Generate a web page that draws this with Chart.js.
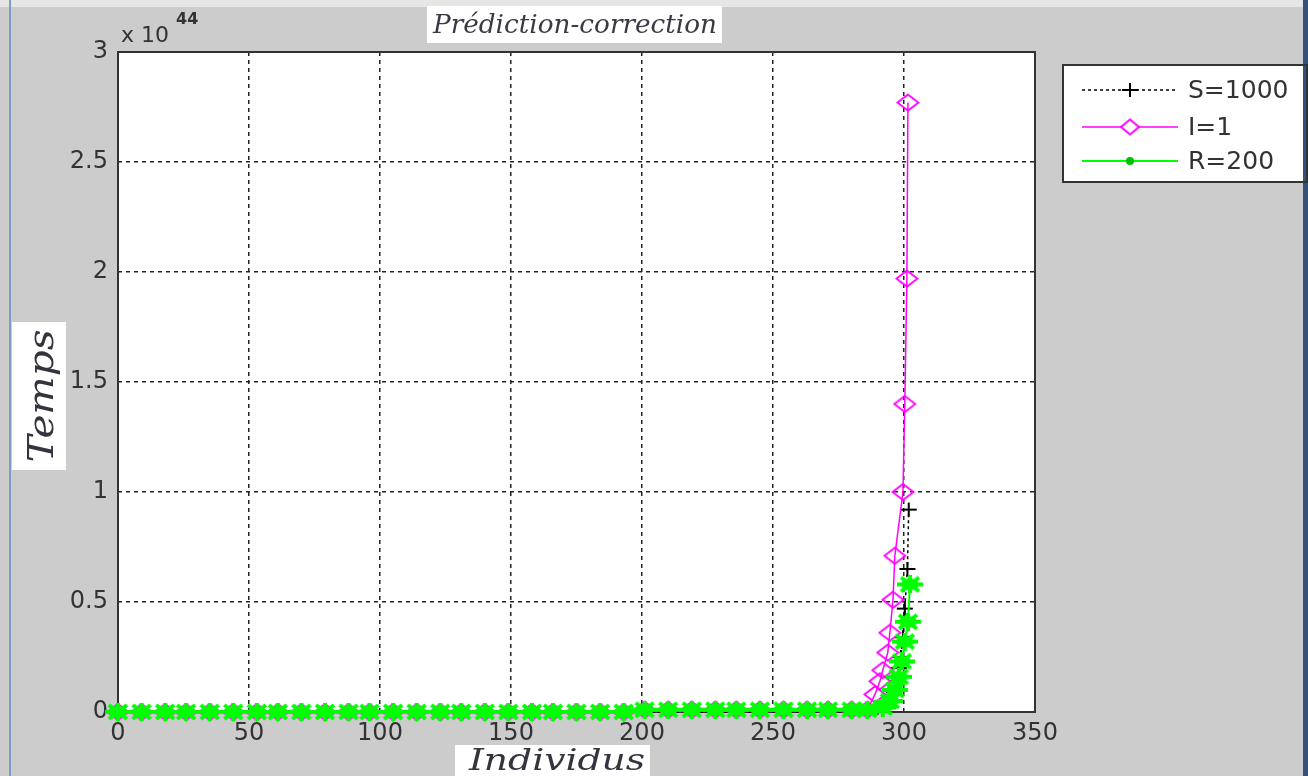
<!DOCTYPE html>
<html>
<head>
<meta charset="utf-8">
<script src="https://cdn.jsdelivr.net/npm/chart.js@4.4.0/dist/chart.umd.min.js"></script>
<style>
  html, body { margin: 0; padding: 0; background: #cccccc; overflow: hidden; }
  canvas { display: block; }
</style>
</head>
<body>
<canvas id="chart" width="1308" height="776"></canvas>
<script>
// Temps en unités de 10^44
const exposant = 44;

const sIndividus = [0, 9, 18, 26, 35, 44, 53, 61, 70, 79, 88, 96, 105, 114, 123, 131, 140, 149, 158, 166, 175, 184, 193, 201, 210, 219, 228, 236, 245, 254, 263, 271, 280, 286, 290, 294.6, 296.1, 297.3, 298, 298.8, 299.6, 300.3, 301.3, 301.8];
const sTemps = [0, 0, 0, 0, 0, 0, 0, 0, 0, 0, 0, 0, 0, 0, 0, 0, 0, 0, 0, 0, 0, 0, 0, 0, 0, 0, 0, 0, 0, 0, 0, 0, 0, 0, 0.02, 0.05, 0.09, 0.14, 0.2, 0.25, 0.34, 0.47, 0.65, 0.92];

const iIndividus = [0, 9, 18, 26, 35, 44, 53, 61, 70, 79, 88, 96, 105, 114, 123, 131, 140, 149, 158, 166, 175, 184, 193, 201, 210, 219, 228, 236, 245, 254, 263, 271, 280, 286, 288.9, 290.8, 291.9, 293.8, 294.6, 295.8, 296.5, 299.6, 300.3, 301.1, 301.5];
const iTemps = [0, 0, 0, 0, 0, 0, 0, 0, 0, 0, 0, 0, 0, 0, 0, 0, 0, 0, 0, 0, 0, 0, 0, 0.01, 0.01, 0.01, 0.01, 0.01, 0.01, 0.01, 0.01, 0.01, 0.01, 0.01, 0.08, 0.14, 0.19, 0.27, 0.36, 0.51, 0.71, 1.0, 1.40, 1.97, 2.77];

const rIndividus = [0, 9, 18, 26, 35, 44, 53, 61, 70, 79, 88, 96, 105, 114, 123, 131, 140, 149, 158, 166, 175, 184, 193, 201, 210, 219, 228, 236, 245, 254, 263, 271, 280, 286, 291.9, 294.6, 296.5, 298, 299.2, 300.3, 301.5, 302.3];
const rTemps = [0, 0, 0, 0, 0, 0, 0, 0, 0, 0, 0, 0, 0, 0, 0, 0, 0, 0, 0, 0, 0, 0, 0, 0.01, 0.01, 0.01, 0.01, 0.01, 0.01, 0.01, 0.01, 0.01, 0.01, 0.01, 0.02, 0.05, 0.10, 0.16, 0.23, 0.32, 0.41, 0.58];

const seriesLabels = ['S=1000', 'I=1', 'R=200'];

function points(xs, ys) {
    return xs.map((x, i) => ({ x: x, y: ys[i] }));
}

// petits canvas servant de marqueurs (un peu plus larges que hauts)
function marker(w, h, draw) {
    const c = document.createElement('canvas');
    c.width = w;
    c.height = h;
    draw(c.getContext('2d'), w, h);
    return c;
}

const plusMarker = marker(18, 16, (g, w, h) => {
    g.strokeStyle = '#000000';
    g.lineWidth = 2;
    g.beginPath();
    g.moveTo(1, h / 2); g.lineTo(w - 1, h / 2);
    g.moveTo(w / 2, 1); g.lineTo(w / 2, h - 1);
    g.stroke();
});

const diamondMarker = marker(24, 19, (g, w, h) => {
    g.strokeStyle = '#ff00ff';
    g.lineWidth = 1.8;
    g.beginPath();
    g.moveTo(w / 2, 1.5); g.lineTo(w - 1.5, h / 2);
    g.lineTo(w / 2, h - 1.5); g.lineTo(1.5, h / 2);
    g.closePath();
    g.stroke();
});

const starMarker = marker(26, 18, (g, w, h) => {
    g.fillStyle = '#00ff00';
    g.strokeStyle = '#00ff00';
    g.beginPath();
    g.ellipse(w / 2, h / 2, 9, 6, 0, 0, Math.PI * 2);
    g.fill();
    g.lineWidth = 4;
    g.beginPath();
    g.moveTo(0, h / 2); g.lineTo(w, h / 2);
    g.moveTo(w / 2, 0); g.lineTo(w / 2, h);
    g.moveTo(4, 2); g.lineTo(w - 4, h - 2);
    g.moveTo(4, h - 2); g.lineTo(w - 4, 2);
    g.stroke();
});

const legendMarkers = [
    plusMarker,
    marker(24, 19, (g, w, h) => {
        g.fillStyle = '#ffffff';
        g.strokeStyle = '#ff00ff';
        g.lineWidth = 2;
        g.beginPath();
        g.moveTo(w / 2, 2); g.lineTo(w - 3, h / 2);
        g.lineTo(w / 2, h - 2); g.lineTo(3, h / 2);
        g.closePath();
        g.fill();
        g.stroke();
    }),
    marker(10, 10, (g) => {
        g.fillStyle = '#00c000';
        g.beginPath();
        g.arc(5, 5, 4, 0, Math.PI * 2);
        g.fill();
    })
];

// texte étiré horizontalement pour tenir dans une largeur donnée
function fitText(ctx, text, cx, y, width, font) {
    ctx.save();
    ctx.font = font;
    ctx.textAlign = 'center';
    const w = ctx.measureText(text).width;
    ctx.translate(cx, y);
    ctx.scale(width / w, 1);
    ctx.fillText(text, 0, 0);
    ctx.restore();
}

const frame = {
    id: 'frame',
    beforeDraw(chart) {
        const ctx = chart.ctx;
        const a = chart.chartArea;
        ctx.save();
        ctx.fillStyle = '#cccccc';
        ctx.fillRect(0, 0, chart.width, chart.height);
        ctx.fillStyle = '#e6e6e6';
        ctx.fillRect(0, 0, chart.width, 7);
        ctx.fillStyle = '#7f9cc8';
        ctx.fillRect(9, 0, 2, chart.height);
        ctx.fillStyle = '#34507e';
        ctx.fillRect(1303, 0, 5, chart.height);
        ctx.fillStyle = '#ffffff';
        ctx.fillRect(a.left, a.top, a.right - a.left, a.bottom - a.top);
        ctx.restore();
    },
    beforeDatasetsDraw(chart) {
        const ctx = chart.ctx;
        const a = chart.chartArea;
        ctx.save();
        ctx.strokeStyle = '#333333';
        ctx.lineWidth = 2;
        ctx.strokeRect(a.left, a.top, a.right - a.left, a.bottom - a.top);
        ctx.restore();
    },
    afterDraw(chart) {
        const ctx = chart.ctx;
        ctx.save();

        // titre
        ctx.fillStyle = '#ffffff';
        ctx.fillRect(427, 6, 295, 37);
        ctx.fillStyle = '#3a3a46';
        fitText(ctx, 'Prédiction-correction', 575, 33, 284, 'italic 26px "DejaVu Serif"');

        // facteur d'échelle de l'axe y
        ctx.fillStyle = '#333333';
        ctx.textAlign = 'left';
        ctx.font = '22px "DejaVu Sans"';
        ctx.fillText('x 10', 121, 42);
        ctx.font = 'bold 16px "DejaVu Sans"';
        ctx.fillText(String(exposant), 176, 24);

        // titre de l'axe y
        ctx.fillStyle = '#ffffff';
        ctx.fillRect(12, 322, 54, 148);
        ctx.fillStyle = '#34343f';
        ctx.save();
        ctx.translate(53, 396);
        ctx.rotate(-Math.PI / 2);
        fitText(ctx, 'Temps', 0, 0, 133, 'italic 36px "DejaVu Serif"');
        ctx.restore();

        // titre de l'axe x
        ctx.fillStyle = '#ffffff';
        ctx.fillRect(455, 745, 195, 31);
        ctx.fillStyle = '#34343f';
        fitText(ctx, 'Individus', 557, 770, 176, 'italic 29px "DejaVu Serif"');

        // légende
        const box = { left: 1063, top: 65, right: 1303, bottom: 182 };
        ctx.fillStyle = '#ffffff';
        ctx.fillRect(box.left, box.top, box.right - box.left, box.bottom - box.top);
        ctx.strokeStyle = '#333333';
        ctx.lineWidth = 2;
        ctx.strokeRect(box.left, box.top, box.right - box.left + 4, box.bottom - box.top);

        const rows = [90, 127, 161];
        chart.data.datasets.forEach((ds, i) => {
            const y = rows[i];
            ctx.save();
            ctx.strokeStyle = ds.borderColor;
            ctx.lineWidth = ds.borderWidth;
            ctx.setLineDash(ds.borderDash || []);
            ctx.beginPath();
            ctx.moveTo(1082, y);
            ctx.lineTo(1178, y);
            ctx.stroke();
            const m = legendMarkers[i];
            ctx.drawImage(m, 1130 - m.width / 2, y - m.height / 2);
            ctx.restore();
            ctx.fillStyle = '#333333';
            ctx.font = '25px "DejaVu Sans"';
            ctx.textAlign = 'left';
            ctx.textBaseline = 'middle';
            ctx.fillText(ds.label, 1188, y + 1);
        });
        ctx.restore();
    }
};

const tickFont = { family: 'DejaVu Sans', size: 24 };

new Chart(document.getElementById('chart').getContext('2d'), {
    type: 'line',
    data: {
        datasets: [
            {
                label: seriesLabels[0],
                data: points(sIndividus, sTemps),
                borderColor: '#000000',
                borderWidth: 1.5,
                borderDash: [3, 3],
                pointStyle: plusMarker,
                order: 3,
                clip: false
            },
            {
                label: seriesLabels[1],
                data: points(iIndividus, iTemps),
                borderColor: '#ff00ff',
                borderWidth: 1.5,
                pointStyle: diamondMarker,
                order: 2,
                clip: false
            },
            {
                label: seriesLabels[2],
                data: points(rIndividus, rTemps),
                borderColor: '#00ff00',
                borderWidth: 2,
                pointStyle: starMarker,
                order: 1,
                clip: false
            }
        ]
    },
    options: {
        responsive: false,
        animation: false,
        devicePixelRatio: 1,
        layout: { padding: { left: 0, right: 273, top: 52, bottom: 0 } },
        plugins: {
            legend: { display: false },
            tooltip: { enabled: false }
        },
        scales: {
            x: {
                type: 'linear',
                min: 0,
                max: 350,
                afterFit: s => { s.height = 64; },
                ticks: { stepSize: 50, padding: 7, color: '#333333', font: tickFont, maxRotation: 0 },
                grid: { color: '#222222', lineWidth: 1.5, drawTicks: false },
                border: { display: false, dash: [4, 4] }
            },
            y: {
                min: 0,
                max: 3,
                afterFit: s => { s.width = 118; },
                ticks: { stepSize: 0.5, padding: 10, color: '#333333', font: tickFont, callback: v => String(v) },
                grid: { color: '#222222', lineWidth: 1.5, drawTicks: false },
                border: { display: false, dash: [4, 4] }
            }
        }
    },
    plugins: [frame]
});
</script>
</body>
</html>
